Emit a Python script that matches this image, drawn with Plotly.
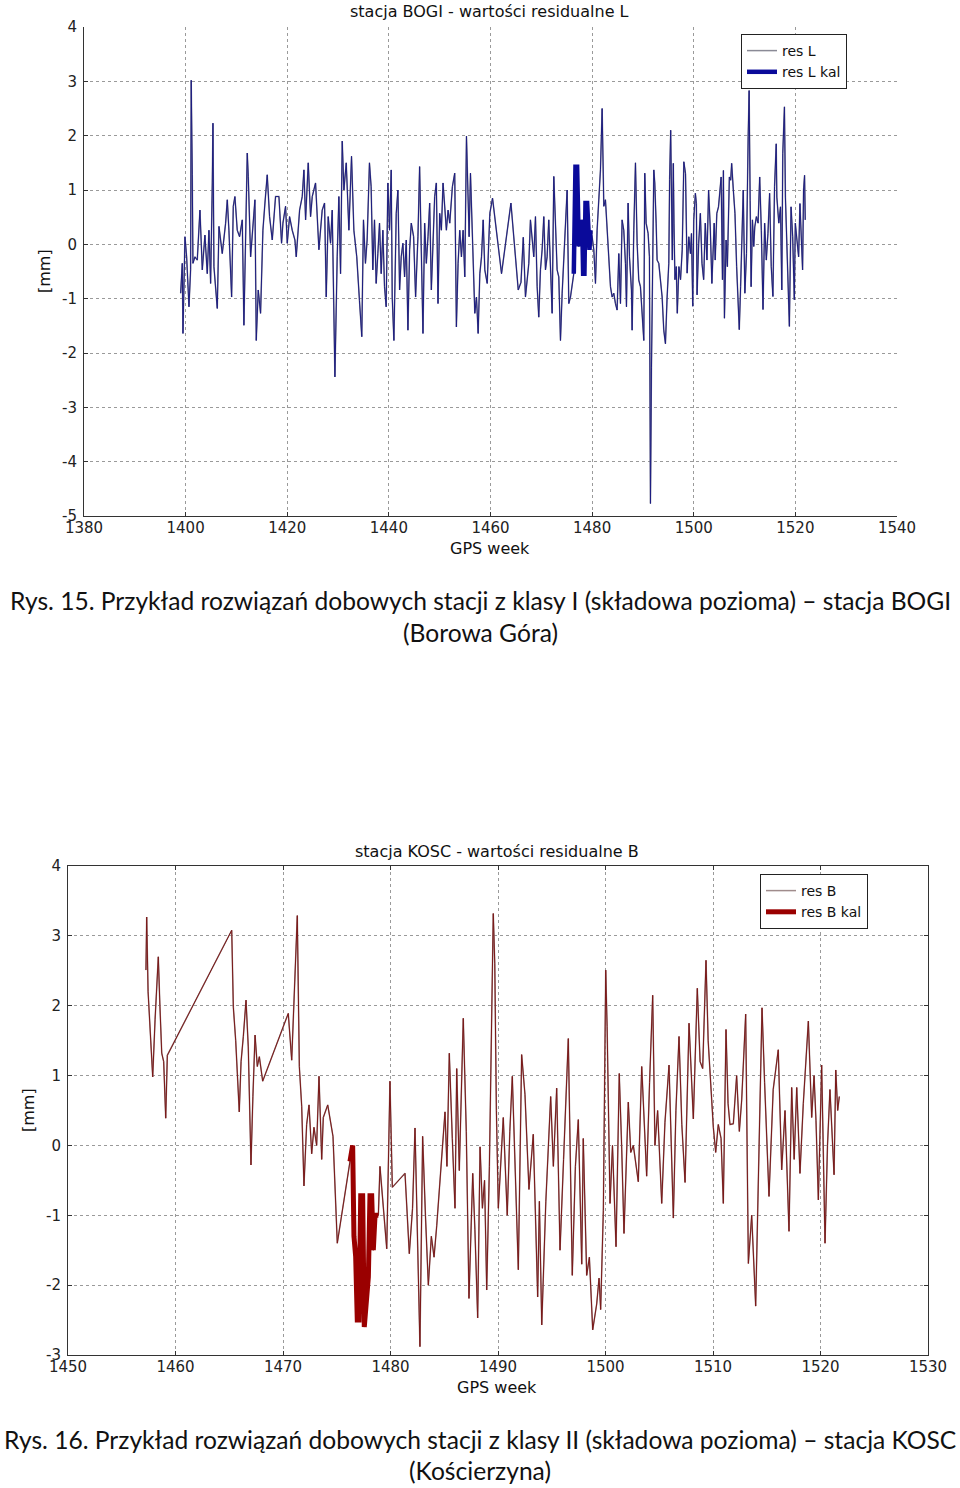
import plotly.graph_objects as go

# ---------------- data: station BOGI (residual L) ----------------
bogi_w1 = [1399.02,1399.34,1399.48,1399.87,1400.20,1400.66,1400.98,1401.10,1401.31,1401.44,
           1401.84,1402.29,1402.82,1403.28,1403.80,1404.26,1404.59,1404.92,1405.25,1405.38,
           1405.57,1406.23,1406.56,1407.21,1407.87,1408.20,1408.52,1409.05,1409.38,1409.70,
           1410.16,1410.62,1411.15,1411.47,1412.13,1412.33,1412.79,1413.25,1413.64,1413.90,
           1414.29,1414.75,1415.21,1415.61,1416.06,1416.52,1417.05,1417.70,1418.36,1418.88,
           1419.15,1419.67,1420.00,1420.46,1420.98,1421.51,1421.77,1422.43,1422.95,1423.28,
           1423.61,1424.13,1424.59,1424.92,1425.57,1426.23,1426.88,1427.34,1427.67,1428.06,
           1428.52,1428.85,1429.38,1429.83,1430.16,1430.49,1430.82,1431.15,1431.61,1432.13,
           1432.65,1433.11,1433.68,1434.21,1434.67,1435.00,1435.39,1435.72,1436.18,1436.51,
           1436.84,1437.17,1437.50,1437.83,1438.16,1438.49,1438.82,1439.14,1439.47,1439.80,
           1440.13,1440.46,1440.66,1440.99,1441.45,1441.78,1442.11,1442.43,1442.76,1443.09,
           1443.42,1443.75,1444.08,1444.41,1444.87,1445.26,1445.72,1446.05,1446.38,1446.71,
           1447.04,1447.37,1447.70,1448.03,1448.36,1448.69,1449.01,1449.34,1449.67,1450.00,
           1450.33,1450.66,1450.99,1451.32,1451.65,1451.98,1452.50,1452.96,1453.29,1453.62,
           1453.95,1454.28,1454.61,1454.94,1455.27,1455.59,1455.79,1456.06,1456.45,1456.91,
           1457.24,1457.57,1457.90,1458.23,1458.56,1458.88,1459.35,1459.87,1460.40,1462.17,
           1464.02,1465.46,1466.00,1466.45,1466.88,1467.54,1467.86,1468.19,1468.52,1468.85,
           1469.18,1469.50,1469.83,1470.16,1470.49,1470.82,1471.14,1471.47,1471.80,1472.13,
           1472.46,1472.78,1473.11,1473.44,1473.77,1474.10,1474.42,1474.75,1475.08,1475.41,
           1475.74]
bogi_v1 = [-0.90,-0.35,-1.64,0.14,-0.23,-1.15,-0.47,3.02,1.28,-0.35,
           -0.23,-0.29,0.63,-0.47,0.17,-0.54,0.26,-0.72,1.13,2.23,
           -0.41,-1.18,0.33,-0.17,0.39,0.82,0.26,-0.97,0.70,0.88,
           0.26,0.14,0.45,-1.49,1.68,1.25,-0.23,0.26,0.82,-1.77,
           -0.84,-1.27,0.26,0.76,1.28,0.51,0.08,0.88,0.88,0.02,
           0.39,0.70,0.02,0.51,0.26,0.08,-0.23,0.63,0.88,1.37,
           0.45,1.50,0.51,0.88,1.13,-0.10,0.63,0.76,-0.97,0.51,
           0.02,0.63,-2.44,-0.23,0.88,-0.54,1.90,1.00,1.50,0.26,
           1.62,0.26,-0.23,-1.03,-1.70,0.45,-0.35,0.08,1.50,1.06,
           -0.47,0.45,-0.72,-0.17,0.39,-0.54,0.26,-0.78,-1.15,1.13,
           0.26,1.37,-0.97,-1.77,0.57,1.00,-0.84,-0.23,0.02,-0.60,
           0.08,-1.58,-0.10,0.39,0.14,-0.97,0.14,1.43,-0.23,-1.64,
           0.39,-0.35,0.14,0.76,-0.84,0.08,0.88,1.13,-1.09,0.57,
           0.26,1.13,0.76,0.26,0.63,0.39,1.06,1.31,-1.52,-0.35,
           0.26,-0.23,0.26,-0.60,1.99,1.00,0.14,1.31,0.26,-1.27,
           -0.97,-1.64,-0.54,-0.23,0.45,-0.47,-0.72,0.57,0.85,-0.54,
           0.76,-0.84,-0.70,0.13,-0.97,-0.35,0.45,0.08,-0.23,0.51,
           -0.78,-1.34,-0.47,-0.10,0.51,-0.47,-0.23,0.45,-0.54,-1.27,
           1.25,0.51,-0.47,-0.60,-1.77,-0.90,-0.35,0.20,1.00,-1.09,
           -0.97]
bogi_kal_w = [1476.39,1476.59,1476.72,1477.05,1477.18,1477.38,1477.57,1477.84,1478.03,1478.23,
              1478.49,1478.69,1479.02,1479.21,1479.48,1479.67]
bogi_kal_v = [-0.54,0.26,1.43,1.43,0.88,-0.04,0.45,0.02,0.45,-0.54,
              -0.54,0.76,0.76,0.26,-0.10,0.26]
bogi_w3 = [1480.00,1480.33,1480.66,1480.98,1481.31,1481.64,1481.97,1482.30,1482.62,1482.95,
           1483.28,1483.61,1483.94,1484.26,1484.59,1484.92,1485.25,1485.58,1485.90,1486.23,
           1486.56,1486.76,1487.08,1487.35,1487.74,1487.87,1488.20,1488.53,1488.86,1489.18,
           1489.51,1489.84,1490.17,1490.36,1490.63,1491.02,1491.28,1491.48,1491.68,1492.14,
           1492.33,1492.60,1492.79,1493.12,1493.45,1493.78,1494.10,1494.43,1494.76,1495.09,
           1495.25,1495.46,1495.78,1495.98,1496.11,1496.30,1496.56,1496.76,1497.08,1497.40,
           1497.73,1498.05,1498.38,1498.70,1499.03,1499.35,1499.55,1499.81,1500.00,1500.32,
           1500.52,1500.65,1500.97,1501.30,1501.62,1501.95,1502.27,1502.60,1502.92,1503.25,
           1503.57,1503.76,1504.02,1504.22,1504.54,1504.87,1505.19,1505.39,1505.65,1505.84,
           1506.04,1506.36,1506.62,1507.01,1507.27,1507.46,1507.79,1508.11,1508.44,1508.76,
           1508.96,1509.22,1509.54,1509.74,1510.06,1510.38,1510.71,1510.90,1511.10,1511.29,
           1511.55,1511.81,1512.01,1512.33,1512.66,1512.98,1513.30,1513.63,1513.95,1514.28,
           1514.60,1514.93,1515.25,1515.58,1515.90,1516.23,1516.35,1516.74,1517.07,1517.33,
           1517.52,1517.85,1518.04,1518.30,1518.56,1518.82,1519.15,1519.47,1519.79,1519.99,
           1520.31,1520.64,1520.90,1521.16,1521.42,1521.61,1521.81,1521.94]
bogi_v3 = [0.14,-0.10,-0.72,0.26,0.88,1.37,2.50,0.70,0.82,0.33,
           -0.35,-0.78,-0.97,-0.90,-1.09,-1.21,-0.17,-1.09,0.45,0.26,
           -0.35,-1.15,0.76,-0.23,-0.84,-1.58,0.26,1.50,0.02,-0.66,
           -0.78,-1.34,-1.77,1.31,0.39,0.20,-0.23,-4.77,-2.26,1.37,
           1.13,0.39,-0.29,-0.35,-0.72,-0.97,-1.58,-1.83,-0.97,-0.35,
           1.19,2.10,-0.29,1.49,0.39,-0.65,-0.41,-1.27,-0.41,-0.65,
           -0.10,1.52,1.30,-0.53,0.14,-0.17,0.20,-1.14,0.45,0.94,
           0.75,-0.93,0.02,0.57,-0.35,-0.65,0.39,-0.29,1.00,0.32,
           -0.72,-0.04,0.39,-0.29,0.57,0.69,1.06,1.24,-0.65,1.36,
           -1.36,0.08,-0.41,1.24,1.18,1.49,1.00,0.57,-0.41,-1.20,
           -1.57,-0.78,0.45,1.00,-0.90,-0.17,1.98,2.83,0.81,-0.78,
           0.45,-0.04,0.32,0.51,0.39,1.24,0.26,-1.20,0.39,-0.29,
           0.20,0.94,-0.41,-0.96,1.06,1.85,0.87,0.39,0.69,-0.84,
           1.67,2.53,0.87,0.14,-0.65,-1.51,0.69,0.14,-1.02,0.39,
           0.08,-0.23,0.75,0.26,-0.47,1.00,1.27,0.45]

# ---------------- data: station KOSC (residual B) ----------------
kosc_w1 = [1457.25,1457.32,1457.45,1457.63,1457.75,1457.88,1458.10,1458.40,1458.55,1458.72,
           1458.90,1459.09,1459.24,1465.23,1465.38,1465.60,1465.93,1466.10,1466.31,1466.56,
           1466.77,1467.02,1467.20,1467.40,1467.61,1467.80,1468.11,1470.49,1470.81,1471.05,
           1471.33,1471.52,1471.74,1471.95,1472.20,1472.42,1472.67,1472.88,1473.13,1473.35,
           1473.60,1473.75,1474.16,1474.65,1475.05]
kosc_v1 = [2.51,3.27,2.20,1.70,1.50,0.98,1.80,2.70,2.00,1.32,
           1.20,0.39,1.29,3.08,1.98,1.50,0.48,1.20,1.56,2.08,
           1.41,-0.28,0.70,1.58,1.13,1.27,0.92,1.89,1.22,2.27,
           3.29,1.13,0.56,-0.58,0.30,0.58,-0.12,0.26,0.00,0.99,
           -0.20,0.40,0.58,0.13,-1.40]
kosc_kal_w = [1476.23,1476.48,1476.60,1476.76,1476.91,1477.07,1477.23,1477.41,1477.56,1477.72,
              1477.94,1478.09,1478.25,1478.40,1478.56,1478.72,1478.87]
kosc_kal_v = [-0.23,0.00,-1.30,-1.59,-2.50,-2.50,-0.72,-0.72,-2.60,-2.30,
              -1.88,-0.72,-0.72,-1.50,-1.00,-1.00,-1.00]
kosc_w3 = [1479.02,1479.65,1479.95,1480.17,1481.35,1481.75,1482.05,1482.28,1482.74,1482.99,
           1483.25,1483.52,1483.80,1484.05,1484.30,1484.67,1485.07,1485.25,1485.47,1485.75,
           1486.00,1486.16,1486.40,1486.77,1487.05,1487.30,1487.65,1487.85,1488.11,1488.33,
           1488.55,1488.75,1488.95,1489.20,1489.56,1489.70,1489.85,1490.03,1490.25,1490.49,
           1490.86,1491.10,1491.33,1491.60,1491.89,1492.20,1492.51,1492.88,1493.28,1493.69,
           1493.85,1494.07,1494.45,1494.90,1495.15,1495.46,1495.77,1496.10,1496.54,1496.91,
           1497.20,1497.47,1497.79,1497.93,1498.25,1498.50,1498.81,1499.18,1499.40,1499.55,
           1499.80,1500.02,1500.15,1500.42,1500.65,1500.98,1501.28,1501.50,1501.72,1502.12,
           1502.35,1502.59,1503.05,1503.37,1503.60,1503.83,1504.10,1504.39,1504.60,1504.85,
           1505.23,1505.53,1505.91,1506.10,1506.31,1506.55,1506.84,1507.10,1507.40,1507.77,
           1508.17,1508.54,1508.80,1509.04,1509.35,1509.55,1509.72,1510.03,1510.25,1510.49,
           1510.75,1510.96,1511.21,1511.40,1511.58,1511.89,1512.20,1512.45,1512.67,1513.04,
           1513.29,1513.60,1513.97,1514.30,1514.56,1514.80,1515.21,1515.60,1516.07,1516.39,
           1516.70,1517.07,1517.32,1517.55,1517.79,1518.09,1518.40,1518.87,1519.18,1519.40,
           1519.58,1519.80,1520.11,1520.42,1520.65,1520.88,1521.26,1521.42,1521.60,1521.75]
kosc_v3 = [-0.30,-1.48,0.92,-0.60,-0.40,-1.55,-0.90,0.25,-2.88,0.13,
           -1.00,-2.00,-1.30,-1.60,-1.15,-0.42,0.48,-0.30,1.32,0.10,
           -0.90,1.10,-0.36,1.82,0.20,-2.19,-0.40,-1.20,-2.47,-0.02,
           -0.90,-0.50,-2.07,-0.30,3.32,2.60,0.50,-0.90,-0.20,0.40,
           -1.00,0.20,0.99,-0.50,-1.78,1.30,0.73,-0.63,0.16,-2.17,
           -0.80,-2.57,-0.80,0.70,-0.30,0.82,-1.50,-0.20,1.53,-1.86,
           -0.30,0.37,-1.70,0.10,-1.86,-1.60,-2.64,-2.27,-1.90,-2.35,
           -0.93,2.51,1.70,-0.83,0.00,-1.45,1.03,0.00,-1.26,0.62,
           -0.10,0.00,-0.52,1.13,0.30,-0.44,0.90,2.15,0.00,0.50,
           -0.83,0.33,1.15,0.20,-1.04,0.50,1.56,0.30,-0.53,1.75,
           0.38,2.25,1.20,1.10,2.65,1.50,1.00,0.26,-0.10,0.30,
           0.10,-0.83,1.66,0.60,0.30,0.31,1.00,0.20,0.65,1.88,
           -1.69,-1.00,-2.30,0.20,1.97,0.90,-0.73,0.80,1.37,-0.35,
           0.50,-1.23,0.83,-0.20,0.83,-0.40,0.60,1.78,0.40,1.00,
           0.36,-0.78,1.15,-1.40,0.00,0.80,-0.42,1.08,0.50,0.70]

# tick labels
bogi_xticks = [1380, 1400, 1420, 1440, 1460, 1480, 1500, 1520, 1540]
bogi_yticks = [-5, -4, -3, -2, -1, 0, 1, 2, 3, 4]
kosc_xticks = [1450, 1460, 1470, 1480, 1490, 1500, 1510, 1520, 1530]
kosc_yticks = [-3, -2, -1, 0, 1, 2, 3, 4]

W, H = 960, 1488
def fx(px): return px / W
def fy(py): return 1 - py / H

bogi_w = bogi_w1 + bogi_kal_w + bogi_w3
bogi_v = bogi_v1 + bogi_kal_v + bogi_v3
kosc_w = kosc_w1 + kosc_kal_w + kosc_w3
kosc_v = kosc_v1 + kosc_kal_v + kosc_v3

fig = go.Figure()
# top chart
fig.add_trace(go.Scatter(x=bogi_w, y=bogi_v, mode="lines", name="res L",
                         line=dict(color="#8a8a96", width=1.5), legend="legend",
                         xaxis="x", yaxis="y", hoverinfo="skip"))
fig.add_trace(go.Scatter(x=bogi_w, y=bogi_v, mode="lines", showlegend=False,
                         line=dict(color="#1c1c80", width=1.0),
                         xaxis="x", yaxis="y", hoverinfo="skip"))
fig.add_trace(go.Scatter(x=bogi_kal_w, y=bogi_kal_v, mode="lines", name="res L kal",
                         line=dict(color="#0a0a9a", width=4.5), legend="legend",
                         xaxis="x", yaxis="y", hoverinfo="skip"))
# bottom chart
fig.add_trace(go.Scatter(x=kosc_w, y=kosc_v, mode="lines", name="res B",
                         line=dict(color="#a08c8c", width=1.5), legend="legend2",
                         xaxis="x2", yaxis="y2", hoverinfo="skip"))
fig.add_trace(go.Scatter(x=kosc_w, y=kosc_v, mode="lines", showlegend=False,
                         line=dict(color="#7a1818", width=1.0),
                         xaxis="x2", yaxis="y2", hoverinfo="skip"))
fig.add_trace(go.Scatter(x=kosc_kal_w, y=kosc_kal_v, mode="lines", name="res B kal",
                         line=dict(color="#9a0000", width=5), legend="legend2",
                         xaxis="x2", yaxis="y2", hoverinfo="skip"))

tickfont = dict(family="DejaVu Sans", size=15, color="#222")
grid = dict(showgrid=True, gridcolor="#9a9a9a", griddash="dot", gridwidth=1,
            zeroline=False, ticks="inside", ticklen=4, tickcolor="#333",
            showline=True, linecolor="#333", linewidth=1, tickfont=tickfont,
            automargin=False, tickmode="array")

fig.update_layout(
    width=W, height=H, margin=dict(l=0, r=0, t=0, b=0, autoexpand=False),
    paper_bgcolor="white", plot_bgcolor="white",
    xaxis=dict(domain=[fx(84), fx(897)], range=[1380, 1540], tickvals=bogi_xticks,
               ticktext=[str(t) for t in bogi_xticks], ticklabelstandoff=-2,
               anchor="y", mirror=False, **grid),
    yaxis=dict(domain=[fy(516), fy(27)], range=[-5, 4], tickvals=bogi_yticks,
               ticktext=[str(t) for t in bogi_yticks], ticklabelstandoff=3,
               anchor="x", mirror=False, **grid),
    xaxis2=dict(domain=[fx(68), fx(928)], range=[1450, 1530], tickvals=kosc_xticks,
                ticktext=[str(t) for t in kosc_xticks], ticklabelstandoff=-2,
                anchor="y2", mirror="ticks", **grid),
    yaxis2=dict(domain=[fy(1355), fy(866)], range=[-3, 4], tickvals=kosc_yticks,
                ticktext=[str(t) for t in kosc_yticks], ticklabelstandoff=3,
                anchor="x2", mirror="ticks", **grid),
    legend=dict(x=fx(741), y=fy(34), xanchor="left", yanchor="top",
                bgcolor="white", bordercolor="#222", borderwidth=1,
                font=dict(family="DejaVu Sans", size=14, color="#111"),
                tracegroupgap=0, entrywidth=100),
    legend2=dict(x=fx(760), y=fy(874), xanchor="left", yanchor="top",
                 bgcolor="white", bordercolor="#222", borderwidth=1,
                 font=dict(family="DejaVu Sans", size=14, color="#111"),
                 tracegroupgap=0, entrywidth=110),
)

ann_font = dict(family="DejaVu Sans", size=16, color="#111")
cap_font = dict(family="Lato", size=24.6, color="#111")
annotations = [
    dict(text="stacja BOGI - wartości residualne L", x=fx(490), y=fy(12), font=ann_font),
    dict(text="GPS week", x=fx(490), y=fy(548), font=ann_font),
    dict(text="[mm]", x=fx(44), y=fy(271), font=ann_font, textangle=-90),
    dict(text="stacja KOSC - wartości residualne B", x=fx(497), y=fy(851), font=ann_font),
    dict(text="GPS week", x=fx(497), y=fy(1387), font=ann_font),
    dict(text="[mm]", x=fx(28), y=fy(1110), font=ann_font, textangle=-90),
    dict(text="Rys. 15. Przykład rozwiązań dobowych stacji z klasy I (składowa pozioma) – stacja BOGI",
         x=fx(480), y=fy(600), font=cap_font),
    dict(text="(Borowa Góra)", x=fx(480), y=fy(632), font=cap_font),
    dict(text="Rys. 16. Przykład rozwiązań dobowych stacji z klasy II (składowa pozioma) – stacja KOSC",
         x=fx(480), y=fy(1439), font=cap_font),
    dict(text="(Kościerzyna)", x=fx(480), y=fy(1470), font=cap_font),
]
for a in annotations:
    a.update(xref="paper", yref="paper", showarrow=False, xanchor="center", yanchor="middle")
fig.update_layout(annotations=annotations)

fig.write_html("out.html", config={"displayModeBar": False, "staticPlot": True},
               post_script="document.body.style.margin='0';document.body.style.overflow='hidden';")
